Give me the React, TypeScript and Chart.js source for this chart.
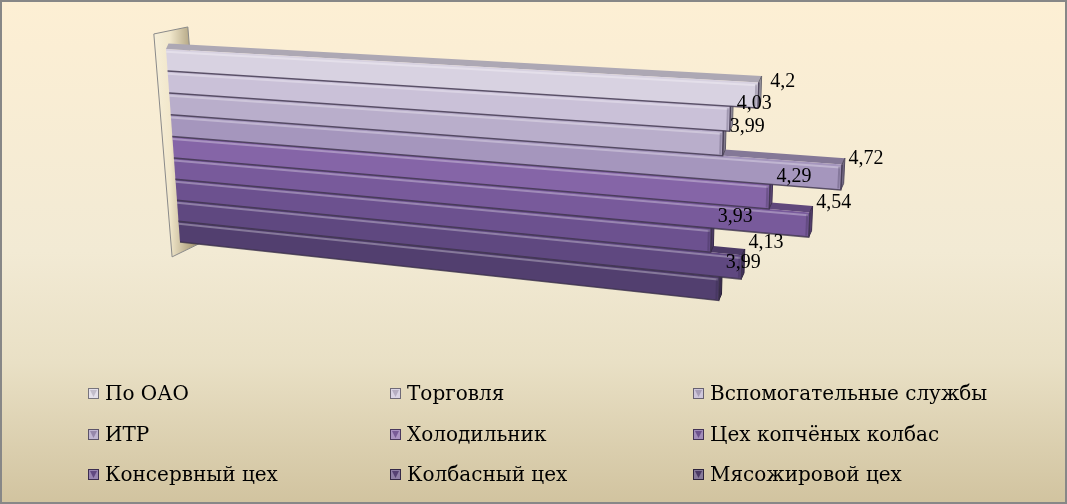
import React, { useEffect, useRef } from 'react';
import { Chart, registerables } from 'chart.js';

Chart.register(...registerables);

const categories = [''];
const seriesNames = [
  'По ОАО',
  'Торговля',
  'Вспомогательные службы',
  'ИТР',
  'Холодильник',
  'Цех копчёных колбас',
  'Консервный цех',
  'Колбасный цех',
  'Мясожировой цех',
];
const seriesValues = [4.2, 4.03, 3.99, 4.72, 4.29, 4.54, 3.93, 4.13, 3.99];
const seriesColors = [
  '#D8D2E1',
  '#CAC1D8',
  '#B9AECB',
  '#A596BD',
  '#8565A7',
  '#785A9B',
  '#6C518F',
  '#5F4880',
  '#523F6F',
];
const valueMax = 5;

const WIDTH = 1067;
const HEIGHT = 504;

// screen quad of the bar plane (value 0..max, first..last series)
const QUAD = { tl: [166, 49], tr: [894, 90], br: [881, 318], bl: [180, 242] };

const LEGEND_COLS = [88, 390, 693];
const LEGEND_ROWS = [394, 435, 475];
const SERIF = '"Liberation Serif", "Times New Roman", serif';
// Liberation Serif here has no Cyrillic, so the legend uses DejaVu Serif
const CYR_SERIF = '"DejaVu Serif", serif';

type Pt = { x: number; y: number; w: number };

function squareToQuad(q: typeof QUAD) {
  const [x0, y0] = q.tl, [x1, y1] = q.tr, [x2, y2] = q.br, [x3, y3] = q.bl;
  const dx1 = x1 - x2, dy1 = y1 - y2, dx2 = x3 - x2, dy2 = y3 - y2;
  const dx3 = x0 - x1 + x2 - x3, dy3 = y0 - y1 + y2 - y3;
  const den = dx1 * dy2 - dx2 * dy1;
  const g = (dx3 * dy2 - dx2 * dy3) / den;
  const h = (dx1 * dy3 - dx3 * dy1) / den;
  const a = x1 - x0 + g * x1, b = x3 - x0 + h * x3;
  const d = y1 - y0 + g * y1, e = y3 - y0 + h * y3;
  return (t: number, s: number): Pt => {
    const w = g * t + h * s + 1;
    return { x: (a * t + b * s + x0) / w, y: (d * t + e * s + y0) / w, w };
  };
}

const proj = squareToQuad(QUAD);

function shade(hex: string, amt: number) {
  const n = parseInt(hex.slice(1), 16);
  let r = (n >> 16) & 255, g = (n >> 8) & 255, b = n & 255;
  const mix = (c: number) => (amt < 0 ? c * (1 + amt) : c + (255 - c) * amt);
  r = Math.round(mix(r)); g = Math.round(mix(g)); b = Math.round(mix(b));
  return `rgb(${r},${g},${b})`;
}

const depth = (p: Pt) => ({ x: p.x + 2.5 / p.w, y: p.y - 5.5 / p.w });

function poly(ctx: CanvasRenderingContext2D, pts: { x: number; y: number }[]) {
  ctx.beginPath();
  pts.forEach((p, i) => (i ? ctx.lineTo(p.x, p.y) : ctx.moveTo(p.x, p.y)));
  ctx.closePath();
}

function line(ctx: CanvasRenderingContext2D, a: { x: number; y: number }, b: { x: number; y: number }) {
  ctx.beginPath();
  ctx.moveTo(a.x, a.y);
  ctx.lineTo(b.x, b.y);
  ctx.stroke();
}

function drawWall(ctx: CanvasRenderingContext2D) {
  const top = proj(0, -0.08);
  const bot = proj(0, 1.08);
  const tl = { x: top.x - 11, y: top.y + 1 };
  const tr = { x: top.x + 23, y: top.y - 6 };
  const br = { x: bot.x + 24, y: bot.y - 16 };
  const bl = { x: bot.x - 9, y: bot.y };
  const grad = ctx.createLinearGradient(tl.x, 0, tr.x + 6, 0);
  grad.addColorStop(0, '#F7EFD9');
  grad.addColorStop(0.4, '#F1E7CB');
  grad.addColorStop(1, '#A99B78');
  poly(ctx, [tl, tr, br, bl]);
  ctx.fillStyle = grad;
  ctx.fill();
  ctx.strokeStyle = '#8A8A8A';
  ctx.lineWidth = 1;
  ctx.stroke();
}

const bar3dPlugin = {
  id: 'bar3d',
  beforeDraw(chart: Chart) {
    const ctx = chart.ctx;
    const grad = ctx.createLinearGradient(0, 0, 0, HEIGHT);
    grad.addColorStop(0, '#FDEFD4');
    grad.addColorStop(0.5, '#F2EAD4');
    grad.addColorStop(0.72, '#E9E0C5');
    grad.addColorStop(1, '#D1C39F');
    ctx.save();
    ctx.fillStyle = grad;
    ctx.fillRect(0, 0, WIDTH, HEIGHT);
    ctx.strokeStyle = '#878787';
    ctx.lineWidth = 2;
    ctx.strokeRect(1, 1, WIDTH - 2, HEIGHT - 2);
    ctx.restore();
  },
  beforeDatasetsDraw(chart: Chart) {
    const ctx = chart.ctx;
    const area = chart.chartArea;
    const bars = chart.data.datasets.map((ds: any, i: number) => {
      const el: any = chart.getDatasetMeta(i).data[0];
      return {
        t0: (el.base - area.left) / area.width,
        t: (el.x - area.left) / area.width,
        s0: (el.y - el.height / 2 - area.top) / area.height,
        s1: (el.y + el.height / 2 - area.top) / area.height,
        color: ds.backgroundColor as string,
        value: ds.data[0] as number,
      };
    });
    ctx.save();
    drawWall(ctx);
    // paint from the lowest bar up, so upper bars cover hidden top faces
    [...bars].sort((a, b) => b.s0 - a.s0).forEach((b) => {
      const lt = proj(b.t0, b.s0), rt = proj(b.t, b.s0);
      const rb = proj(b.t, b.s1), lb = proj(b.t0, b.s1);
      // top face
      poly(ctx, [lt, rt, depth(rt), depth(lt)]);
      ctx.fillStyle = shade(b.color, -0.2);
      ctx.fill();
      // end face
      poly(ctx, [rt, depth(rt), depth(rb), rb]);
      ctx.fillStyle = shade(b.color, -0.3);
      ctx.fill();
      ctx.strokeStyle = shade(b.color, -0.5);
      ctx.lineWidth = 1;
      ctx.stroke();
      // front face
      poly(ctx, [lt, rt, rb, lb]);
      ctx.fillStyle = b.color;
      ctx.fill();
      // highlight along the top of the front face
      const hs = b.s0 + (b.s1 - b.s0) * 0.12;
      ctx.strokeStyle = 'rgba(255,255,255,0.3)';
      ctx.lineWidth = 2;
      line(ctx, proj(b.t0, hs), proj(b.t - 0.002, hs));
      // rounded end shading
      ctx.strokeStyle = 'rgba(40,30,60,0.25)';
      ctx.lineWidth = 2;
      line(ctx, proj(b.t - 0.003, b.s0 + 0.01), proj(b.t - 0.003, b.s1 - 0.005));
      // separator under the bar and outline of its end
      ctx.beginPath();
      ctx.moveTo(lb.x, lb.y);
      ctx.lineTo(rb.x, rb.y);
      ctx.lineTo(rt.x, rt.y);
      ctx.strokeStyle = 'rgba(60,50,75,0.8)';
      ctx.lineWidth = 1.5;
      ctx.stroke();
    });
    // value labels
    ctx.fillStyle = '#000';
    ctx.font = '20px ' + SERIF;
    ctx.textAlign = 'center';
    ctx.textBaseline = 'middle';
    bars.forEach((b) => {
      const p = proj(b.t, b.s0);
      ctx.fillText(String(b.value).replace('.', ','), p.x + 24, p.y - 1 - 15 * b.s0);
    });
    ctx.restore();
    return false;
  },
  afterDraw(chart: Chart) {
    const ctx = chart.ctx;
    ctx.save();
    ctx.font = '20px ' + CYR_SERIF;
    ctx.textAlign = 'left';
    ctx.textBaseline = 'middle';
    chart.data.datasets.forEach((ds: any, i: number) => {
      const x = LEGEND_COLS[i % 3];
      const y = LEGEND_ROWS[Math.floor(i / 3)];
      const c = ds.backgroundColor as string;
      const sz = 11;
      const bx = x, by = y - 6;
      ctx.fillStyle = shade(c, 0.3);
      ctx.fillRect(bx, by, sz, sz);
      ctx.beginPath();
      ctx.moveTo(bx + 2, by + 2);
      ctx.lineTo(bx + sz - 2, by + 2);
      ctx.lineTo(bx + sz / 2, by + sz - 2);
      ctx.closePath();
      ctx.fillStyle = shade(c, -0.1);
      ctx.fill();
      ctx.strokeStyle = shade(c, -0.45);
      ctx.lineWidth = 1;
      ctx.strokeRect(bx + 0.5, by + 0.5, sz - 1, sz - 1);
      ctx.fillStyle = '#000';
      ctx.fillText(ds.label, x + 17, y + 1);
    });
    ctx.restore();
  },
};

export default function App() {
  const canvasRef = useRef<HTMLCanvasElement>(null);

  useEffect(() => {
    if (!canvasRef.current) return;
    const chart = new Chart(canvasRef.current, {
      type: 'bar',
      data: {
        labels: categories,
        datasets: seriesNames.map((name, i) => ({
          label: name,
          data: [seriesValues[i]],
          backgroundColor: seriesColors[i],
        })),
      },
      options: {
        indexAxis: 'y',
        responsive: false,
        animation: false,
        layout: { padding: 0 },
        datasets: { bar: { categoryPercentage: 1, barPercentage: 1 } },
        scales: {
          x: { type: 'linear', min: 0, max: valueMax, display: false },
          y: { display: false },
        },
        plugins: { legend: { display: false }, tooltip: { enabled: false } },
      },
      plugins: [bar3dPlugin],
    });
    return () => chart.destroy();
  }, []);

  return (
    <div style={{ position: 'fixed', left: 0, top: 0, width: WIDTH, height: HEIGHT }}>
      <canvas ref={canvasRef} width={WIDTH} height={HEIGHT} style={{ display: 'block' }} />
    </div>
  );
}
